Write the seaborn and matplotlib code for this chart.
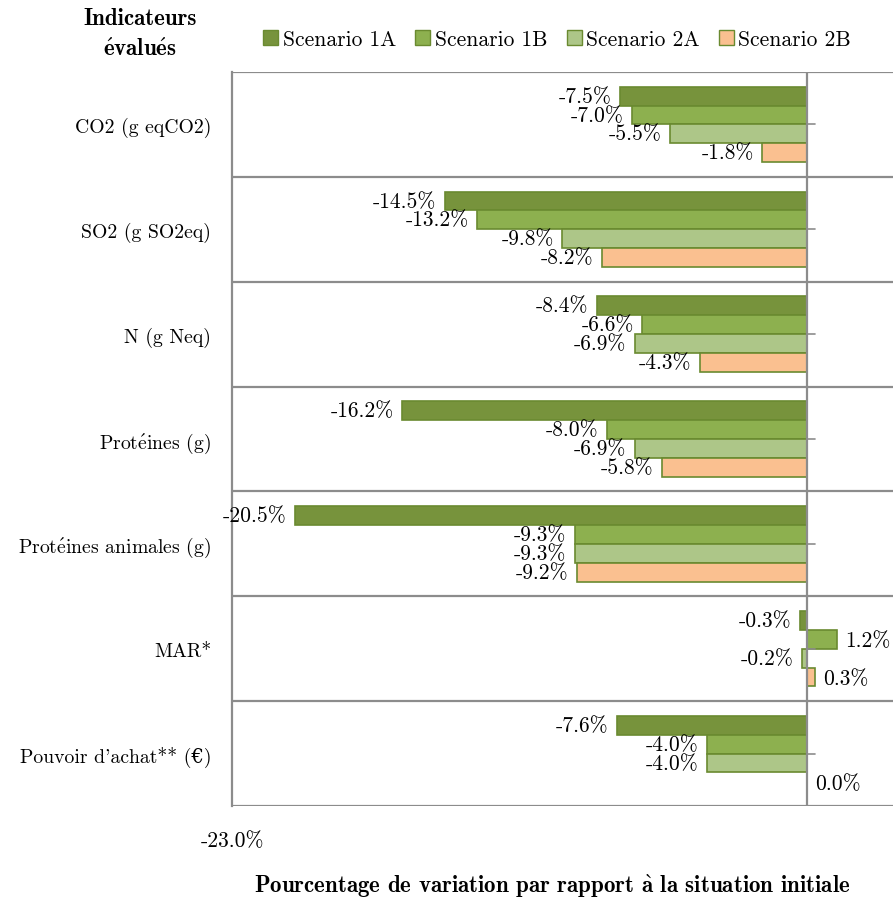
import pandas as pd
import matplotlib.pyplot as plt
import seaborn as sns
from matplotlib.patches import Patch

# data (% change vs. initial situation)
indicators = ["CO2 (g eqCO2)", "SO2 (g SO2eq)", "N (g Neq)", r"Prot$\mathrm{\acute{e}}$ines (g)",
              r"Prot$\mathrm{\acute{e}}$ines animales (g)", "MAR*", "Pouvoir d'achat** (€)"]
scenarios = ["Scenario 1A", "Scenario 1B", "Scenario 2A", "Scenario 2B"]
s1a = [-7.5, -14.5, -8.4, -16.2, -20.5, -0.3, -7.6]
s1b = [-7.0, -13.2, -6.6, -8.0, -9.3, 1.2, -4.0]
s2a = [-5.5, -9.8, -6.9, -6.9, -9.3, -0.2, -4.0]
s2b = [-1.8, -8.2, -4.3, -5.8, -9.2, 0.3, 0.0]
colors = ["#77933C", "#8DB04F", "#ADC688", "#FAC090"]

df = pd.DataFrame({
    "indicator": indicators * 4,
    "scenario": [s for s in scenarios for _ in indicators],
    "value": s1a + s1b + s2a + s2b,
})

sns.set_theme(style="white")
serif = ["cmr10", "DejaVu Serif"]
bold = ["cmb10", "DejaVu Serif"]
plt.rcParams["font.family"] = serif
plt.rcParams["mathtext.fontset"] = "cm"
plt.rcParams["axes.formatter.use_mathtext"] = True
plt.rcParams["text.color"] = "black"
plt.rcParams["xtick.color"] = "black"
plt.rcParams["ytick.color"] = "black"

fs = 15.5

fig = plt.figure(figsize=(8.93, 9.03), dpi=100)
ax = fig.add_axes([0.2598, 0.1063, 0.7402, 0.8129])

sns.barplot(data=df, x="value", y="indicator", hue="scenario", orient="h",
            palette=colors, width=0.72, edgecolor="#6A8A30", linewidth=1.2,
            saturation=1, legend=False, ax=ax)

ax.set_xlim(-23, 3.44)
ax.set_ylim(6.5, -0.5)

# category separators and zero axis
for k in range(8):
    ax.axhline(k - 0.5, color="#8C8C8C", lw=1.6, zorder=0)
ax.axvline(0, color="#8C8C8C", lw=1.6, zorder=3)
for k in range(7):
    ax.plot([0, 0.3], [k, k], color="#8C8C8C", lw=1.2, zorder=3)

for sp in ["top", "right", "bottom"]:
    ax.spines[sp].set_visible(False)
ax.spines["left"].set_color("#8C8C8C")
ax.spines["left"].set_linewidth(1.6)

# data labels
for cont in ax.containers:
    for bar in cont:
        v = bar.get_x() + bar.get_width() if bar.get_x() >= 0 else bar.get_x()
        yc = bar.get_y() + bar.get_height() / 2
        if v < 0:
            ax.annotate(f"{v:.1f}%", (v, yc), xytext=(-6, 0), textcoords="offset points",
                        ha="right", va="center", fontsize=fs, zorder=5)
        else:
            ax.annotate(f"{v:.1f}%", (v, yc), xytext=(6, -1), textcoords="offset points",
                        ha="left", va="center", fontsize=fs, zorder=5)

ax.set_ylabel("")
ax.set_xlabel("")
ax.tick_params(axis="y", length=0, pad=15, labelsize=14.2, labelcolor="black")
ax.set_xticks([-23])
ax.set_xticklabels(["-23.0%"], fontsize=fs)
ax.tick_params(axis="x", length=0, pad=18, labelcolor="black")

handles = [Patch(facecolor=c, edgecolor="#6A8A30", linewidth=1) for c in colors]
fig.legend(handles, scenarios, loc="center", bbox_to_anchor=(0.624, 0.955), ncol=4,
           frameon=False, fontsize=fs, handlelength=0.7, handleheight=0.7,
           handletextpad=0.2, columnspacing=0.9)

fig.text(0.157, 0.962, "Indicateurs\n" + r"$\mathbf{\acute{e}}$valu$\mathbf{\acute{e}}$s",
         ha="center", va="center", fontsize=16.5, family=bold, linespacing=1.5)
fig.text(0.618, 0.018,
         r"Pourcentage de variation par rapport $\mathbf{\grave{a}}$ la situation initiale",
         ha="center", va="center", fontsize=16.5, family=bold)

fig.savefig("out.png", dpi=100)
